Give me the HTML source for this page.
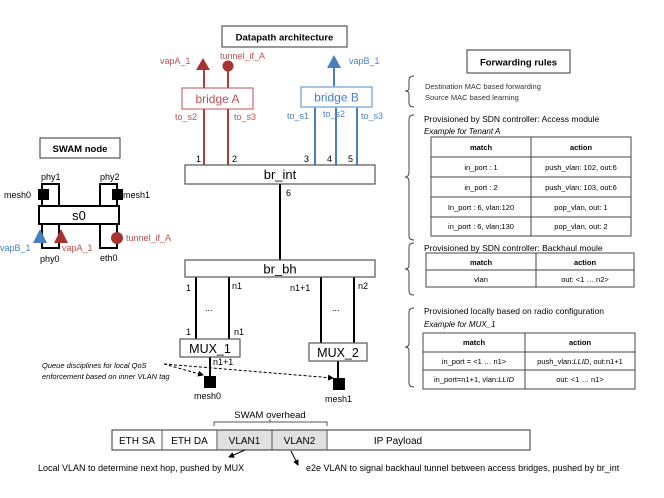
<!DOCTYPE html>
<html><head><meta charset="utf-8"><style>
html,body{margin:0;padding:0;background:#fff}
svg{display:block;font-family:"Liberation Sans",sans-serif}
</style></head><body>
<svg width="664" height="498" viewBox="0 0 664 498" xmlns="http://www.w3.org/2000/svg">
<defs>
<marker id="ah" markerWidth="6" markerHeight="6" refX="5" refY="3" orient="auto"><path d="M0,0 L6,3 L0,6z" fill="#000"/></marker>
</defs>
<!-- Datapath title -->
<rect x="222" y="26" width="125" height="21" fill="#fff" stroke="#555" stroke-width="1.2"/>
<text x="284.5" y="40.5" font-size="9.5" font-weight="bold" text-anchor="middle">Datapath architecture</text>

<!-- bridge A -->
<g stroke="#b03a3a" stroke-width="2" fill="none">
<line x1="204" y1="68" x2="204" y2="88"/><line x1="228" y1="66" x2="228" y2="88"/>
<line x1="204" y1="109" x2="204" y2="165"/><line x1="228" y1="109" x2="228" y2="165"/>
</g>
<polygon points="203,58 196,70 210,70" fill="#a83232"/>
<circle cx="228" cy="66" r="5.5" fill="#a83232"/>
<rect x="182" y="88" width="71" height="21" fill="#fff" stroke="#c05050"/>
<text x="217.5" y="103" font-size="12" fill="#c05050" text-anchor="middle">bridge A</text>
<g font-size="9" fill="#c05050">
<text x="160" y="64">vapA_1</text><text x="220" y="59">tunnel_if_A</text>
<text x="175" y="120">to_s2</text><text x="234" y="120">to_s3</text>
</g>
<!-- bridge B -->
<g stroke="#4a7ec0" stroke-width="2" fill="none">
<line x1="334" y1="66" x2="334" y2="87"/>
<line x1="315" y1="107" x2="315" y2="165"/><line x1="336" y1="107" x2="336" y2="165"/><line x1="357" y1="107" x2="357" y2="165"/>
</g>
<polygon points="334,55 327,68 341,68" fill="#4a7ec0"/>
<rect x="301" y="87" width="71" height="20" fill="#fff" stroke="#8ab0d8" stroke-width="1.5"/>
<text x="336.5" y="101.5" font-size="12" fill="#4a7ec0" text-anchor="middle">bridge B</text>
<g font-size="9" fill="#4a7ec0">
<text x="349" y="64">vapB_1</text>
<text x="287" y="119">to_s1</text><text x="323" y="117">to_s2</text><text x="361" y="119">to_s3</text>
</g>
<g font-size="9"><text x="196" y="162">1</text><text x="232" y="162">2</text><text x="304" y="162">3</text><text x="327" y="162">4</text><text x="348" y="162">5</text><text x="286" y="196">6</text></g>
<!-- br_int -->
<rect x="185" y="165" width="190" height="19" fill="#fff" stroke="#555" stroke-width="1.2"/>
<text x="280" y="179" font-size="13" text-anchor="middle">br_int</text>
<line x1="280" y1="184" x2="280" y2="260" stroke="#000" stroke-width="2"/>
<!-- br_bh -->
<g stroke="#000" stroke-width="2">
<line x1="196" y1="277" x2="196" y2="339"/><line x1="229" y1="277" x2="229" y2="339"/>
<line x1="321" y1="277" x2="321" y2="343"/><line x1="354" y1="277" x2="354" y2="343"/>
<line x1="210" y1="357" x2="210" y2="378"/><line x1="338" y1="361" x2="338" y2="380"/>
</g>
<rect x="185" y="260" width="190" height="17" fill="#fff" stroke="#555" stroke-width="1.2"/>
<text x="280" y="273.5" font-size="13" text-anchor="middle">br_bh</text>
<g font-size="9"><text x="186" y="291">1</text><text x="232" y="289">n1</text><text x="290" y="291">n1+1</text><text x="358" y="289">n2</text>
<text x="186" y="335">1</text><text x="234" y="335">n1</text><text x="213" y="365">n1+1</text>
<text x="205" y="311">...</text><text x="332" y="311">...</text></g>
<rect x="180" y="339" width="60" height="18" fill="#fff" stroke="#555" stroke-width="1.2"/>
<text x="210" y="353" font-size="12.5" text-anchor="middle">MUX_1</text>
<rect x="309" y="343" width="58" height="18" fill="#fff" stroke="#555" stroke-width="1.2"/>
<text x="338" y="357" font-size="12.5" text-anchor="middle">MUX_2</text>
<rect x="204" y="376" width="12" height="12" fill="#000"/>
<rect x="333" y="378" width="12" height="12" fill="#000"/>
<text x="194" y="399" font-size="9">mesh0</text><text x="325" y="402" font-size="9">mesh1</text>
<g font-size="7.5" font-style="italic"><text x="42" y="368">Queue disciplines for local QoS</text><text x="42" y="379">enforcement based on inner VLAN tag</text></g>
<g stroke="#000" stroke-width="1" stroke-dasharray="3,2" fill="none">
<line x1="164" y1="364" x2="203" y2="375" marker-end="url(#ah)"/>
<line x1="164" y1="364" x2="333" y2="378" marker-end="url(#ah)"/>
</g>
<!-- packet -->
<text x="270" y="418" font-size="9.5" text-anchor="middle">SWAM overhead</text>
<path d="M214,426 L214,422 L327,422 L327,426 M270,422 L270,419" stroke="#555" fill="none"/>
<rect x="217" y="430" width="110" height="20" fill="#e0e0e0"/>
<rect x="112" y="430" width="418" height="20" fill="none" stroke="#555" stroke-width="1.2"/>
<g stroke="#555"><line x1="162" y1="430" x2="162" y2="450"/><line x1="217" y1="430" x2="217" y2="450"/><line x1="272" y1="430" x2="272" y2="450"/><line x1="327" y1="430" x2="327" y2="450"/></g>
<g font-size="10" text-anchor="middle"><text x="137" y="444">ETH SA</text><text x="189.5" y="444">ETH DA</text><text x="244.5" y="444">VLAN1</text><text x="299.5" y="444">VLAN2</text><text x="398" y="444">IP Payload</text></g>
<g stroke="#000" stroke-width="1"><line x1="245" y1="450" x2="229" y2="457" marker-end="url(#ah)"/><line x1="291" y1="451" x2="298" y2="465" marker-end="url(#ah)"/></g>
<g font-size="9"><text x="38" y="471">Local VLAN to determine next hop, pushed by MUX</text><text x="306" y="471">e2e VLAN to signal backhaul tunnel between access bridges, pushed by br_int</text></g>

<!-- SWAM node -->
<rect x="40" y="138" width="80" height="20" fill="#fff" stroke="#555" stroke-width="1.2"/>
<text x="80" y="152" font-size="9.5" font-weight="bold" text-anchor="middle">SWAM node</text>
<g stroke="#000" stroke-width="2" fill="none">
<path d="M42,206 L42,184 L59,184 L59,206"/><path d="M100,206 L100,184 L117,184 L117,206"/>
<path d="M42,224 L42,248 L59,248 L59,224"/><path d="M100,224 L100,248 L117,248 L117,224"/>
</g>
<rect x="38" y="189" width="11" height="11" fill="#000"/><rect x="112" y="189" width="11" height="11" fill="#000"/>
<rect x="39" y="206" width="80" height="18" fill="#fff" stroke="#000" stroke-width="2"/>
<text x="79" y="220" font-size="13" text-anchor="middle">s0</text>
<polygon points="40,229 33,243 47,243" fill="#4a7ec0"/>
<polygon points="61,229 54,243 68,243" fill="#a83232"/>
<circle cx="117" cy="238" r="6" fill="#a83232"/>
<g font-size="9"><text x="41" y="180">phy1</text><text x="100" y="180">phy2</text><text x="4" y="198">mesh0</text><text x="123" y="198">mesh1</text>
<text x="40" y="262">phy0</text><text x="100" y="261">eth0</text></g>
<text x="0" y="251" font-size="9" fill="#4a7ec0">vapB_1</text>
<text x="62" y="251" font-size="9" fill="#c05050">vapA_1</text>
<text x="126" y="241" font-size="9" fill="#c05050">tunnel_if_A</text>

<!-- Forwarding rules -->
<rect x="467" y="50" width="103" height="23" fill="#fff" stroke="#555" stroke-width="1.2"/>
<text x="518.5" y="65.5" font-size="9.5" font-weight="bold" text-anchor="middle">Forwarding rules</text>
<g stroke="#444" fill="none" stroke-width="1">
<path d="M414,76 Q409,76 409,80 L409,88 Q409,91 405,91 Q409,91 409,94 L409,103 Q409,107 414,107"/>
<path d="M414,115 Q409,115 409,119 L409,172 Q409,177 405,177 Q409,177 409,182 L409,236 Q409,240 414,240"/>
<path d="M414,243 Q409,243 409,247 L409,265 Q409,269 405,269 Q409,269 409,273 L409,291 Q409,295 414,295"/>
<path d="M414,308 Q409,308 409,312 L409,343 Q409,347 405,347 Q409,347 409,351 L409,383 Q409,387 414,387"/>
</g>
<g font-size="7.5" fill="#333"><text x="425" y="89">Destination MAC based forwarding</text><text x="425" y="100">Source MAC based learning</text></g>
<text x="424" y="122" font-size="8.5">Provisioned by SDN controller: Access module</text>
<text x="424" y="134" font-size="8" font-style="italic">Example for Tenant A</text>
<g stroke="#444" fill="none"><rect x="431" y="137" width="200" height="99"/>
<line x1="531" y1="137" x2="531" y2="236"/><line x1="431" y1="157" x2="631" y2="157"/><line x1="431" y1="177" x2="631" y2="177"/><line x1="431" y1="197" x2="631" y2="197"/><line x1="431" y1="217" x2="631" y2="217"/></g>
<g font-size="7.5" text-anchor="middle"><text x="481" y="150" font-weight="bold">match</text><text x="581" y="150" font-weight="bold">action</text>
<text x="481" y="170">in_port : 1</text><text x="581" y="170">push_vlan: 102, out:6</text>
<text x="481" y="190">in_port : 2</text><text x="581" y="190">push_vlan: 103, out:6</text>
<text x="481" y="210">In_port : 6, vlan:120</text><text x="581" y="210">pop_vlan, out: 1</text>
<text x="481" y="229">in_port : 6, vlan:130</text><text x="581" y="229">pop_vlan, out: 2</text></g>

<text x="424" y="251" font-size="8.5">Provisioned by SDN controller: Backhaul moule</text>
<g stroke="#444" fill="none"><rect x="426" y="253" width="208" height="34"/><line x1="536" y1="253" x2="536" y2="287"/><line x1="426" y1="270" x2="634" y2="270"/></g>
<g font-size="7.5" text-anchor="middle"><text x="481" y="265" font-weight="bold">match</text><text x="585" y="265" font-weight="bold">action</text>
<text x="481" y="282">vlan</text><text x="585" y="282">out: &lt;1 … n2&gt;</text></g>

<text x="424" y="314" font-size="8.5">Provisioned locally based on radio configuration</text>
<text x="424" y="327" font-size="8" font-style="italic">Example for MUX_1</text>
<g stroke="#444" fill="none"><rect x="423" y="333" width="212" height="56"/><line x1="525" y1="333" x2="525" y2="389"/><line x1="423" y1="352" x2="635" y2="352"/><line x1="423" y1="370" x2="635" y2="370"/></g>
<g font-size="7.5" text-anchor="middle"><text x="474" y="345" font-weight="bold">match</text><text x="580" y="345" font-weight="bold">action</text>
<text x="474" y="364">in_port = &lt;1 … n1&gt;</text><text x="580" y="364">push_vlan:<tspan font-style="italic">LLID</tspan>, out:n1+1</text>
<text x="474" y="382">in_port=n1+1, vlan:<tspan font-style="italic">LLID</tspan></text><text x="580" y="382">out: &lt;1 … n1&gt;</text></g>
</svg>
</body></html>
